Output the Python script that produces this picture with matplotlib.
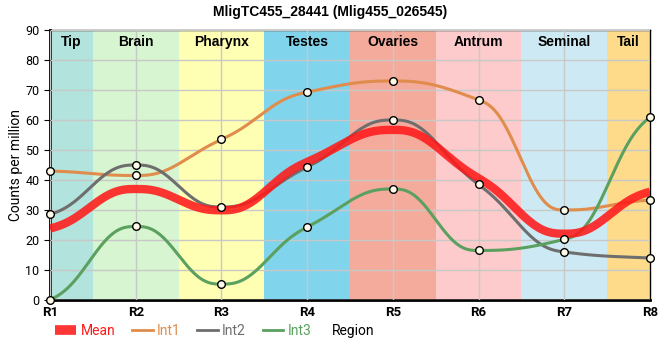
import numpy as np
import matplotlib
matplotlib.use('Agg')
import matplotlib.pyplot as plt
from matplotlib.lines import Line2D

plt.rcParams['font.family'] = ['Roboto', 'DejaVu Sans']

regions = ['R1', 'R2', 'R3', 'R4', 'R5', 'R6', 'R7', 'R8']
bands = ['Tip', 'Brain', 'Pharynx', 'Testes', 'Ovaries', 'Antrum', 'Seminal', 'Tail']
band_colors = ['#b3e3dd', '#d7f5d0', '#ffffb4', '#80d4eb', '#f4ab9c', '#fdcbcb', '#cdeaf4', '#fddb8b']

int1 = [43.0, 41.5, 53.5, 69.3, 73.0, 66.7, 30.0, 33.3]
int2 = [28.5, 45.0, 31.0, 44.3, 60.0, 38.5, 16.0, 14.0]
int3 = [0.0, 24.5, 5.3, 24.3, 37.0, 16.5, 20.2, 61.0]
mean = [23.8, 37.0, 29.9, 46.0, 56.7, 40.6, 22.1, 36.1]


def smooth(x, y, xs):
    # monotone slopes + quintic hermite, for the drawn curves only
    x = np.asarray(x, float); y = np.asarray(y, float)
    h = np.diff(x); d = np.diff(y) / h
    m = np.zeros_like(y)
    for k in range(1, len(y) - 1):
        if d[k - 1] * d[k] > 0:
            w1 = 2 * h[k] + h[k - 1]; w2 = h[k] + 2 * h[k - 1]
            m[k] = (w1 + w2) / (w1 / d[k - 1] + w2 / d[k])
    m[0] = d[0] * 0.6; m[-1] = d[-1] * 0.6
    i = np.clip(np.searchsorted(x, xs) - 1, 0, len(h) - 1)
    t = (xs - x[i]) / h[i]
    h0 = 1 - 10 * t**3 + 15 * t**4 - 6 * t**5
    h1 = t - 6 * t**3 + 8 * t**4 - 3 * t**5
    h2 = 10 * t**3 - 15 * t**4 + 6 * t**5
    h3 = -4 * t**3 + 7 * t**4 - 3 * t**5
    return h0 * y[i] + h1 * h[i] * m[i] + h2 * y[i + 1] + h3 * h[i] * m[i + 1]


xpos = np.arange(len(regions))
xs = np.linspace(0, len(regions) - 1, 700)

fig = plt.figure(figsize=(6.6, 3.6), dpi=100)
ax = fig.add_axes([0.0758, 0.1667, 0.909, 0.75])

n = len(bands)
for k, (b, c) in enumerate(zip(bands, band_colors)):
    lo, hi = max(k - 0.5, 0), min(k + 0.5, n - 1)
    ax.axvspan(lo, hi, color=c, lw=0, zorder=0)
    ax.text((lo + hi) / 2, 88.3, b, ha='center', va='top', fontsize=10,
            fontweight='bold', family=['Liberation Sans', 'DejaVu Sans'], zorder=6)

ax.grid(True, color='#c8c8c8', lw=1, zorder=1)
ax.set_axisbelow(False)

c1, c2, c3, cm = '#e08c4c', '#6e6e6e', '#5ba05f', '#ff1a1a'
ax.plot(xs, smooth(xpos, int1, xs), color=c1, lw=2.2, zorder=3)
ax.plot(xs, smooth(xpos, int2, xs), color=c2, lw=2.2, zorder=3)
ax.plot(xs, smooth(xpos, int3, xs), color=c3, lw=2.2, zorder=3)
ax.plot(xs, smooth(xpos, mean, xs), color=cm, lw=6, alpha=0.88, zorder=4, solid_capstyle='butt')
for s in (int1, int2, int3):
    ax.plot(xpos, s, 'o', ms=5.5, mfc='#fffbe8', mec='black', mew=1, zorder=5, clip_on=False)

ax.set_xlim(0, 7)
ax.set_ylim(0, 90)
ax.set_xticks(xpos)
ax.set_xticklabels(regions, fontweight='bold', fontsize=9.5)
ax.set_yticks(np.arange(0, 91, 10))
ax.tick_params(axis='y', labelsize=9, length=4)
ax.tick_params(axis='x', length=0, pad=4)
ax.set_ylabel('Counts per million', fontsize=10, labelpad=2)
for sp in ('left', 'bottom'):
    ax.spines[sp].set_linewidth(2)
for sp in ('top', 'right'):
    ax.spines[sp].set_linewidth(1)

fig.text(0.5, 0.985, 'MligTC455_28441 (Mlig455_026545)', ha='center', va='top',
         fontsize=10, fontweight='bold', family=['Liberation Sans', 'DejaVu Sans'])

handles = [Line2D([], [], color=cm, lw=7, alpha=0.88, solid_capstyle='butt'),
           Line2D([], [], color=c1, lw=2),
           Line2D([], [], color=c2, lw=2),
           Line2D([], [], color=c3, lw=2)]
leg = fig.legend(handles, ['Mean', 'Int1', 'Int2', 'Int3'], loc='center left',
                 bbox_to_anchor=(0.065, 0.08), ncol=4, frameon=False, fontsize=10,
                 handlelength=1.5, handletextpad=0.3, columnspacing=1.2)
for t, c in zip(leg.get_texts(), [cm, c1, c2, c3]):
    t.set_color(c)
fig.text(0.503, 0.08, 'Region', ha='left', va='center', fontsize=10)

fig.savefig('out.png', dpi=100)
